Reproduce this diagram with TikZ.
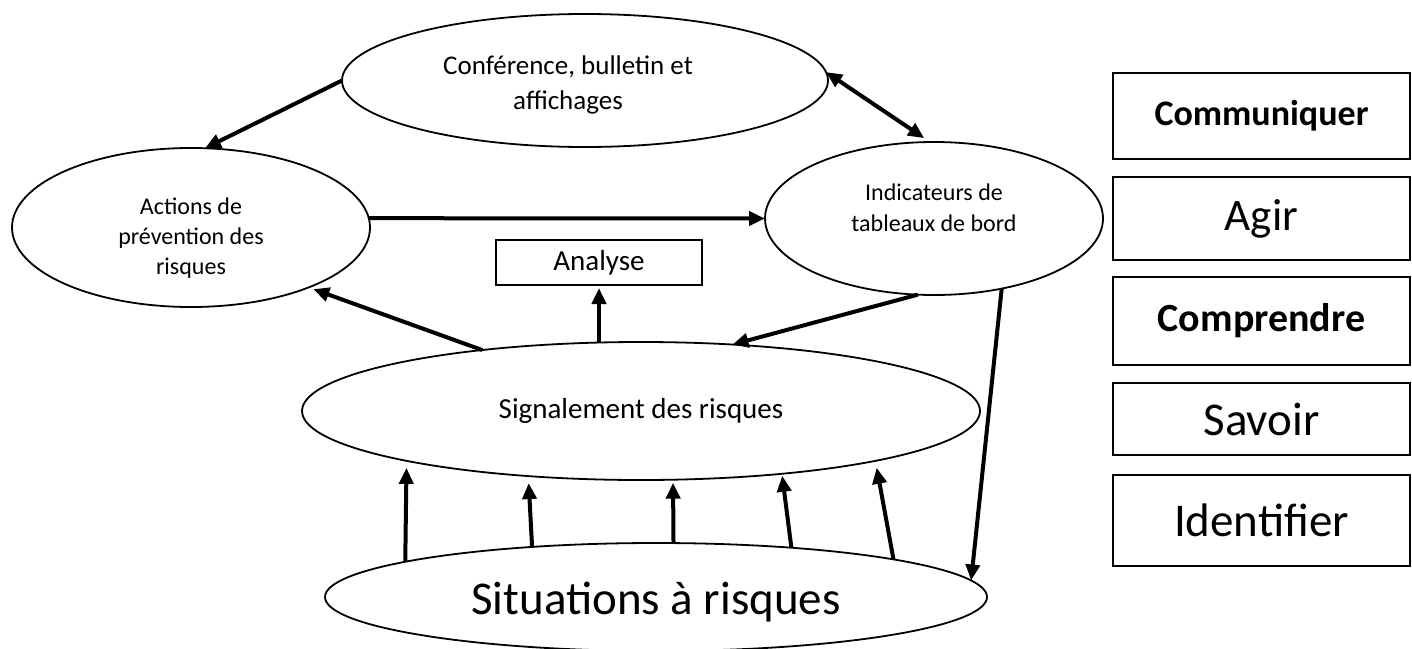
\documentclass[tikz,border=0pt]{standalone}
\usepackage{fontspec}
\setmainfont{Carlito}
\usetikzlibrary{shapes.geometric,arrows.meta,positioning}

\tikzset{
  bulle/.style={ellipse, draw, line width=1.8pt, inner sep=0pt, outer sep=0pt},
  texte/.style={align=center, inner sep=0pt},
  cadre/.style={rectangle, draw, line width=1.8pt, inner sep=0pt, outer sep=0pt, minimum width=297pt},
  fleche/.style={line width=4pt, -{Triangle[length=16pt,width=14pt]}},
}

\begin{document}
\begin{tikzpicture}[x=1pt,y=-1pt]
    \useasboundingbox (0,0) rectangle (1412,648);

    %% ellipses
    \node[bulle, minimum width=486pt, minimum height=133pt] (conf) at (585,80.5) {};
    \node[bulle, minimum width=358pt, minimum height=159pt] (act) at (191,227.5) {};
    \node[bulle, minimum width=338pt, minimum height=153pt] (ind) at (934,218.5) {};
    \node[bulle, minimum width=678pt, minimum height=138pt] (sig) at (641,411) {};
    \node[bulle, minimum width=662pt, minimum height=108pt] (sit) at (656,597) {};
    \node[cadre, minimum width=206pt, minimum height=45pt, font=\fontsize{29}{35}\selectfont] (ana) at (599,262.5) {Analyse};

    %% textes des ellipses
    \node[texte, font=\fontsize{27}{35}\selectfont] (conf-t) at ([xshift=-17pt,yshift=-4pt]conf.center) {Conférence, bulletin et\\affichages};
    \node[texte, font=\fontsize{24}{30}\selectfont] (act-t) at ([yshift=-11pt]act.center) {Actions de\\prévention des\\risques};
    \node[texte, font=\fontsize{24}{31}\selectfont] (ind-t) at ([yshift=11pt]ind.center) {Indicateurs de\\tableaux de bord};
    \node[texte, font=\fontsize{29}{35}\selectfont] (sig-t) at (sig.center) {Signalement des risques};
    \node[texte, font=\fontsize{47}{56}\selectfont] (sit-t) at ([yshift=-5pt]sit.center) {Situations à risques};

    %% colonne de droite
    \node[cadre, minimum height=86pt, font=\bfseries\fontsize{36}{42}\selectfont] (com) at (1261.5,116) {Communiquer};
    \node[cadre, minimum height=83pt, below=18pt of com, font=\fontsize{45}{54}\selectfont] (agir) {Agir};
    \node[cadre, minimum height=88pt, below=17pt of agir, font=\bfseries\fontsize{40}{46}\selectfont] (comp) {Comprendre};
    \node[cadre, minimum height=72pt, below=18pt of comp, font=\fontsize{47}{56}\selectfont] (sav) {Savoir};
    \node[cadre, minimum height=91pt, below=20pt of sav, font=\fontsize{47}{56}\selectfont] (iden) {Identifier};

    %% fleches du haut
    \draw[fleche] (conf.west) -- (act.80);
    \draw[fleche, {Triangle[length=16pt,width=14pt]}-{Triangle[length=16pt,width=14pt]}, shorten >=7pt] (conf.2) -- (ind.93);
    \draw[fleche] (act.3) -- (ind.west);
    \draw[fleche, shorten >=5pt] (sig.159) -- (act.333);
    \draw[fleche, shorten >=3pt] (sig.north -| ana.south) -- (ana.south);
    \draw[fleche] (ind.258) -- (sig.36);
    \draw[fleche] (ind.314) -- (sit.3);

    %% remontees des situations
    \draw[fleche, shorten >=7pt] (sit.172) -- (sig.192);
    \draw[fleche, shorten >=7pt] (sit.158) -- (sig.210);
    \draw[fleche, shorten >=3pt] (sit.72) -- (sig.295);
    \draw[fleche, shorten >=2pt] (sit.20) -- (sig.336);
    \draw[fleche, shorten >=7pt] (sit.9) -- (sig.348);
\end{tikzpicture}
\end{document}
